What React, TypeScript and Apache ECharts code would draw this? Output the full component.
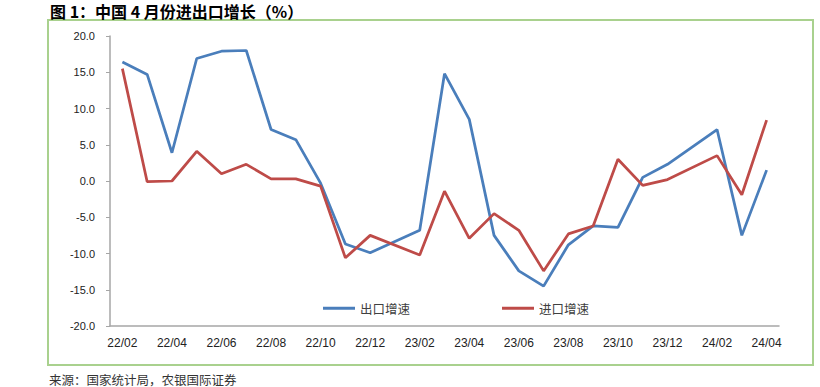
import React, { useEffect, useRef } from "react";
import * as echarts from "echarts";

const categories = [
  "22/02", "22/03", "22/04", "22/05", "22/06", "22/07", "22/08", "22/09", "22/10", "22/11", "22/12",
  "23/01", "23/02", "23/03", "23/04", "23/05", "23/06", "23/07", "23/08", "23/09", "23/10", "23/11", "23/12",
  "24/01", "24/02", "24/03", "24/04",
];

const exportGrowth: (number | null)[] = [
  16.4, 14.7, 3.9, 16.9, 17.9, 18.0, 7.1, 5.7, -0.3, -8.7, -9.9,
  null, -6.8, 14.8, 8.5, -7.5, -12.4, -14.5, -8.8, -6.2, -6.4, 0.5, 2.3,
  null, 7.1, -7.5, 1.5,
];

const importGrowth: (number | null)[] = [
  15.5, -0.1, 0.0, 4.1, 1.0, 2.3, 0.3, 0.3, -0.7, -10.6, -7.5,
  null, -10.2, -1.4, -7.9, -4.5, -6.8, -12.4, -7.3, -6.2, 3.0, -0.6, 0.2,
  null, 3.5, -1.9, 8.4,
];

const seriesNames = ["出口增速", "进口增速"];
const titleText = "图 1：中国 4 月份进出口增长（%）";
const sourceText = "来源：国家统计局，农银国际证券";

const CJK = '"Noto Sans CJK SC", sans-serif';
const LATIN = '"Liberation Sans", Arial, sans-serif';

export default function App() {
  const ref = useRef<HTMLDivElement>(null);

  useEffect(() => {
    document.body.style.margin = "0";
    if (!ref.current) return;
    const chart = echarts.init(ref.current, undefined, { renderer: "svg" });
    chart.setOption({
      animation: false,
      backgroundColor: "#ffffff",
      graphic: [
        {
          type: "rect",
          shape: { x: 48, y: 20, width: 765, height: 345 },
          style: { fill: "none", stroke: "#A9D18E", lineWidth: 2 },
          z: 0,
        },
        {
          type: "text",
          x: 50,
          y: 10.5,
          style: {
            text: titleText,
            font: `bold 16px ${CJK}`,
            fill: "#000000",
            textVerticalAlign: "middle",
          },
        },
        {
          type: "text",
          x: 49,
          y: 379,
          style: {
            text: sourceText,
            font: `12.5px ${CJK}`,
            fill: "#333333",
            textVerticalAlign: "middle",
          },
        },
      ],
      legend: {
        left: 318,
        top: 297,
        itemWidth: 32,
        itemHeight: 3,
        itemGap: 92,
        textStyle: { fontFamily: CJK, fontSize: 12.5, color: "#404040" },
        data: seriesNames.map((n) => ({ name: n, icon: "rect" })),
      },
      grid: { left: 110, top: 36, width: 669, height: 290, containLabel: false },
      xAxis: {
        type: "category",
        data: categories,
        boundaryGap: true,
        axisLine: { onZero: false, lineStyle: { color: "#A6A6A6", width: 1.5 } },
        axisTick: { interval: 1, length: 4, lineStyle: { color: "#A6A6A6" } },
        axisLabel: {
          interval: 1,
          fontFamily: LATIN,
          fontSize: 12,
          color: "#222222",
          margin: 11,
        },
        splitLine: { show: false },
      },
      yAxis: {
        type: "value",
        min: -20,
        max: 20,
        interval: 5,
        axisLine: { show: true, lineStyle: { color: "#A6A6A6", width: 1.5 } },
        axisTick: { show: true, length: 4, lineStyle: { color: "#A6A6A6" } },
        axisLabel: {
          fontFamily: LATIN,
          fontSize: 11,
          color: "#222222",
          margin: 15,
          formatter: (v: number) => v.toFixed(1),
        },
        splitLine: { show: false },
      },
      series: [
        {
          name: seriesNames[0],
          type: "line",
          data: exportGrowth,
          connectNulls: true,
          showSymbol: false,
          symbol: "none",
          lineStyle: { color: "#4A7EBB", width: 2.75 },
          itemStyle: { color: "#4A7EBB" },
        },
        {
          name: seriesNames[1],
          type: "line",
          data: importGrowth,
          connectNulls: true,
          showSymbol: false,
          symbol: "none",
          lineStyle: { color: "#BE4B48", width: 2.75 },
          itemStyle: { color: "#BE4B48" },
        },
      ],
    });
    return () => chart.dispose();
  }, []);

  return (
    <div
      ref={ref}
      style={{ position: "absolute", left: 0, top: 0, width: 820, height: 387 }}
    />
  );
}
